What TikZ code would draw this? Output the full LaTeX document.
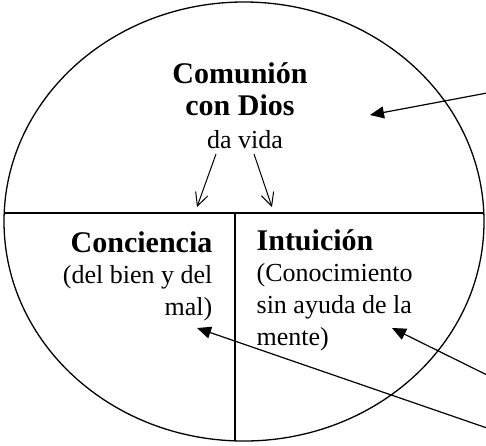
\documentclass[tikz,border=0pt]{standalone}
\usepackage{fontspec}
\setmainfont{Liberation Serif}
\usetikzlibrary{arrows,positioning,arrows.meta}
\tikzset{
    %Define standard arrow tip
    >={Triangle[width=12pt,length=14pt]},
    %Define style for titles and small text
    titulo/.style={
           inner sep=0pt,
           font=\fontsize{30}{36}\selectfont\bfseries},
    texto/.style={
           inner sep=0pt,
           font=\fontsize{26}{31}\selectfont},
    % Define arrow styles
    pil/.style={
           ->,
           line width=1.2pt},
    bajada/.style={
           -{Straight Barb[length=13pt,width=13pt]},
           line width=1pt}
}

\begin{document}
\begin{tikzpicture}[x=1pt, y=-1pt, line width=1.3pt]
 \useasboundingbox (0,0) rectangle (486,445);
 % the spirit
 \draw (244,221.5) ellipse [x radius=240pt, y radius=219.5pt];
 \coordinate (izq) at (4.2,213);
 \coordinate (der) at (483.8,213);
 \coordinate (centro) at (235,213);
 \coordinate (fondo) at (235,440.8);
 \draw (izq) -- (der);
 \draw (centro) -- (fondo);
 % top part
 \node[titulo, anchor=base] (comunion) at (240,83) {Comunión};
 \node[titulo, anchor=base] (dios) at (240,115) {con Dios};
 \node[texto, anchor=base] (vida) at (245,148) {da vida};
 \coordinate (vidaA) at (197,207);
 \coordinate (vidaB) at (272,207);
 \draw[bajada] ([xshift=-29pt,yshift=-6pt]vida.base) -- (vidaA);
 \draw[bajada] ([xshift=9pt,yshift=-6pt]vida.base) -- (vidaB);
 % left part
 \node[titulo, anchor=base east] (conciencia) at (213,252) {Conciencia};
 \node[texto, anchor=base east] (bien) at (213,283) {(del bien y del};
 \node[texto, anchor=base east] (mal) at (213,315) {mal)};
 % right part
 \node[titulo, anchor=base west] (intuicion) at (256,250) {Intuición};
 \node[texto, anchor=base west] (conoc) at (256,281) {(Conocimiento};
 \node[texto, anchor=base west] (ayuda) at (256,313) {sin ayuda de la};
 \node[texto, anchor=base west] (mente) at (256,345) {mente)};
 % arrows from outside
 \coordinate (fuera1) at (487,93);
 \coordinate (fuera2) at (487,375);
 \coordinate (fuera3) at (487,428);
 \coordinate (punta1) at (370,115);
 \coordinate (punta2) at (392,328);
 \coordinate (punta3) at (197,328);
 \draw[pil] (fuera1) -- (punta1);
 \draw[pil] (fuera2) -- (punta2);
 \draw[pil] (fuera3) -- (punta3);
\end{tikzpicture}
\end{document}
